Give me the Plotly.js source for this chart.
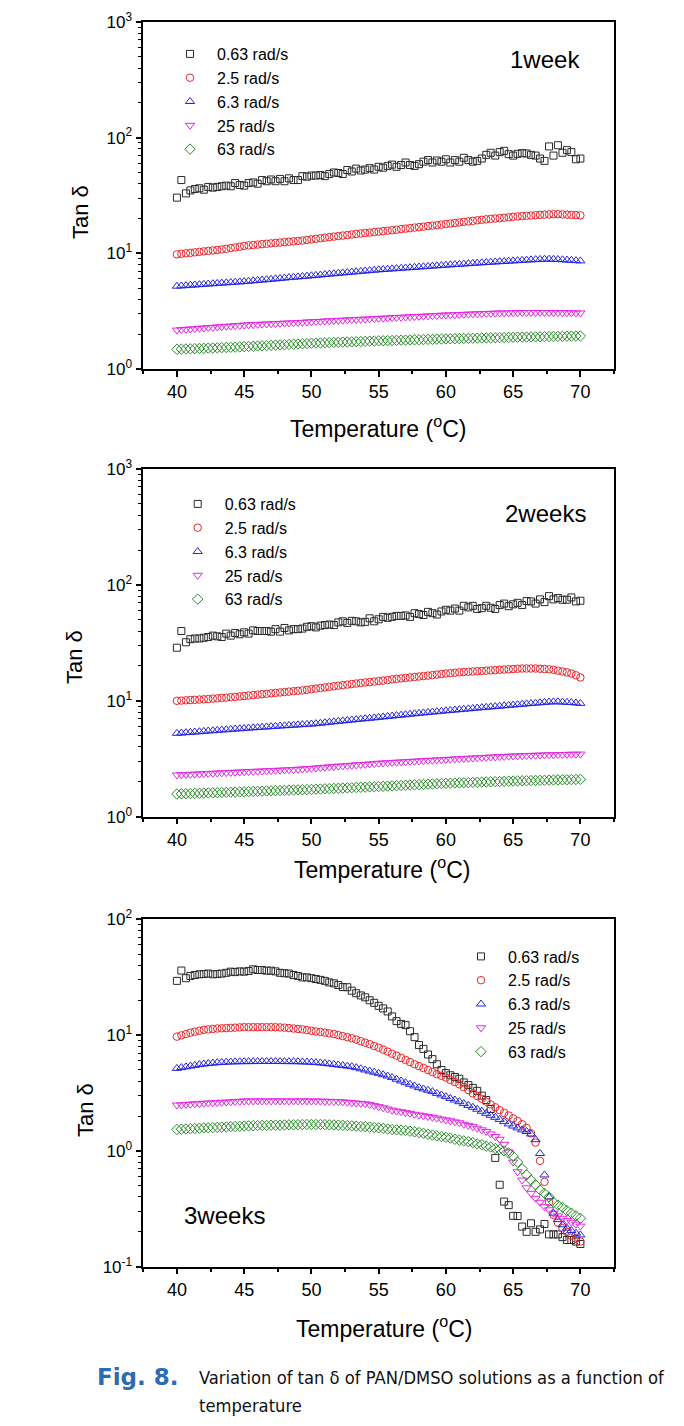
<!DOCTYPE html>
<html>
<head>
<meta charset="utf-8">
<script src="https://cdn.plot.ly/plotly-3.0.1.min.js"></script>
<style>
html,body{margin:0;padding:0;background:#fff;}
#chart{width:684px;height:1426px;}
</style>
</head>
<body>
<div id="chart"></div>
<script>
// Temperature (°C)
const temps = [40,40.33,40.67,41,41.33,41.67,42,42.33,42.67,43,43.33,43.67,44,44.33,44.67,45,
45.33,45.67,46,46.33,46.67,47,47.33,47.67,48,48.33,48.67,49,49.33,49.67,50,
50.33,50.67,51,51.33,51.67,52,52.33,52.67,53,53.33,53.67,54,54.33,54.67,55,
55.33,55.67,56,56.33,56.67,57,57.33,57.67,58,58.33,58.67,59,59.33,59.67,60,
60.33,60.67,61,61.33,61.67,62,62.33,62.67,63,63.33,63.67,64,64.33,64.67,65,
65.33,65.67,66,66.33,66.67,67,67.33,67.67,68,68.33,68.67,69,69.33,69.67,70];

const seriesNames = ['0.63 rad/s','2.5 rad/s','6.3 rad/s','25 rad/s','63 rad/s'];
const panelLabels = ['1week','2weeks','3weeks'];
const xTickVals = [40,45,50,55,60,65,70];

// ---- 1 week ----
const w1_063 = [30.3,43,33,35,36,36.5,35.5,37.5,37,37.5,38,38.5,38,40.5,39,38.5,
40.5,41,40,43,42,43.5,42,44,42,44.5,43,43,46.5,46,47,
47,47.5,46.5,48.5,50,49.5,48.5,52.5,51,54,52,53,54.5,53,56,
55,57,58.5,56,58,61,58,57,59,62,64,61,63.5,62,65,
61,64,62,67,64,62,63,66,71,74,70,75,77,72,70,
72.5,73.5,73,71,70,66,63,84,70,86,74,78,75,65,66];
const w1_25 = [9.8,9.9,10.0,10.1,10.2,10.3,10.4,10.5,10.6,10.7,10.8,10.95,11.1,11.25,11.4,11.6,
11.7,11.8,11.9,12.0,12.1,12.2,12.3,12.4,12.5,12.6,12.7,12.8,12.9,13.05,13.2,
13.35,13.5,13.65,13.8,13.95,14.1,14.25,14.4,14.55,14.7,14.85,15.0,15.1,15.25,15.4,
15.55,15.7,15.85,16.0,16.2,16.35,16.5,16.7,16.85,17.0,17.2,17.35,17.5,17.7,17.9,
18.1,18.3,18.5,18.7,18.9,19.1,19.3,19.5,19.7,19.85,20.0,20.15,20.3,20.5,20.7,
20.85,21.0,21.1,21.2,21.35,21.5,21.6,21.7,21.8,21.8,21.7,21.6,21.5,21.4,21.3];
const w1_63r = [5.2,5.23,5.26,5.3,5.33,5.36,5.4,5.43,5.46,5.5,5.53,5.56,5.6,5.63,5.66,5.7,
5.74,5.79,5.83,5.88,5.92,5.97,6.02,6.07,6.12,6.17,6.22,6.26,6.3,6.35,6.4,
6.45,6.5,6.56,6.61,6.66,6.72,6.77,6.82,6.88,6.93,6.98,7.04,7.09,7.15,7.2,
7.25,7.29,7.34,7.38,7.43,7.48,7.52,7.57,7.62,7.66,7.71,7.76,7.8,7.85,7.9,
7.95,8.0,8.04,8.09,8.14,8.19,8.24,8.28,8.33,8.38,8.42,8.47,8.51,8.56,8.6,
8.65,8.7,8.74,8.78,8.82,8.86,8.9,8.9,8.88,8.85,8.8,8.75,8.7,8.65,8.6];
const w1_250 = [2.17,2.19,2.2,2.22,2.23,2.25,2.26,2.28,2.29,2.31,2.32,2.34,2.35,2.37,2.38,2.4,
2.41,2.42,2.43,2.44,2.45,2.46,2.47,2.48,2.49,2.5,2.51,2.52,2.53,2.55,2.56,
2.57,2.58,2.6,2.61,2.62,2.63,2.64,2.66,2.67,2.68,2.69,2.7,2.71,2.73,2.74,
2.75,2.76,2.78,2.79,2.8,2.81,2.83,2.84,2.85,2.86,2.88,2.89,2.9,2.92,2.93,
2.94,2.95,2.96,2.97,2.98,2.99,3.0,3.01,3.02,3.03,3.04,3.05,3.05,3.06,3.07,
3.07,3.08,3.08,3.08,3.08,3.08,3.08,3.08,3.07,3.07,3.07,3.06,3.06,3.05,3.05];
const w1_630 = [1.48,1.485,1.49,1.495,1.5,1.505,1.51,1.515,1.52,1.525,1.53,1.535,1.54,1.545,1.55,1.56,
1.567,1.574,1.581,1.588,1.595,1.602,1.609,1.616,1.623,1.63,1.637,1.644,1.651,1.66,1.67,
1.675,1.68,1.686,1.691,1.697,1.702,1.708,1.713,1.718,1.724,1.729,1.734,1.74,1.745,1.75,
1.755,1.76,1.764,1.769,1.774,1.778,1.783,1.788,1.792,1.797,1.802,1.806,1.811,1.815,1.82,
1.824,1.828,1.832,1.836,1.84,1.844,1.848,1.852,1.856,1.86,1.864,1.868,1.872,1.876,1.88,
1.883,1.887,1.89,1.894,1.897,1.9,1.904,1.907,1.91,1.914,1.917,1.92,1.923,1.927,1.93];

// ---- 2 weeks ----
const w2_063 = [28.7,40,32,34,34.5,34.5,35,35.5,36.5,36,35.5,38,36.5,38.5,37.5,39,
38,40.5,40,40,40,39.5,41.5,39.5,42.5,40.5,41.5,41.5,42,43.5,44,
43,44.5,45,45.5,45,47.5,48.5,47,49,48.5,47.5,48,51.5,48.5,50.5,
53,52,53,54,54,54.5,53,57,56,55,58.5,57,55.5,59,61,
60,62.5,60,66,64,66,62,63,66,63.5,62,67,69,65.5,68,
70,67,72.5,72,69,75,71,80,75,77,74.5,74.5,78,72,73];
const w2_25 = [10.0,10.05,10.1,10.15,10.2,10.25,10.3,10.35,10.45,10.5,10.6,10.65,10.75,10.8,10.9,11.0,
11.1,11.2,11.3,11.4,11.5,11.6,11.7,11.8,11.9,12.0,12.1,12.2,12.3,12.45,12.6,
12.75,12.9,13.05,13.2,13.35,13.5,13.65,13.8,13.95,14.1,14.25,14.4,14.5,14.65,14.8,
14.95,15.1,15.3,15.45,15.6,15.75,15.9,16.05,16.2,16.35,16.5,16.65,16.85,17.0,17.2,
17.3,17.45,17.6,17.7,17.8,17.9,18.0,18.1,18.2,18.3,18.4,18.5,18.6,18.7,18.8,
18.9,19.0,19.0,19.0,19.0,18.9,18.8,18.7,18.5,18.2,17.9,17.6,17.2,16.6,15.9];
const w2_63r = [5.24,5.27,5.31,5.34,5.38,5.41,5.45,5.49,5.52,5.56,5.6,5.63,5.67,5.71,5.74,5.78,
5.81,5.85,5.88,5.92,5.95,5.99,6.02,6.06,6.09,6.13,6.16,6.2,6.23,6.27,6.3,
6.35,6.41,6.47,6.53,6.59,6.65,6.71,6.77,6.83,6.89,6.95,7.01,7.07,7.13,7.2,
7.26,7.33,7.39,7.46,7.52,7.59,7.66,7.73,7.8,7.86,7.93,8.0,8.06,8.13,8.2,
8.26,8.33,8.39,8.46,8.52,8.59,8.66,8.72,8.79,8.86,8.92,8.99,9.06,9.13,9.2,
9.27,9.34,9.41,9.48,9.55,9.62,9.69,9.76,9.8,9.8,9.75,9.7,9.65,9.58,9.5];
const w2_250 = [2.29,2.3,2.31,2.32,2.33,2.34,2.35,2.36,2.37,2.38,2.39,2.4,2.41,2.42,2.43,2.44,
2.45,2.46,2.47,2.48,2.49,2.5,2.51,2.52,2.53,2.54,2.55,2.57,2.58,2.6,2.61,
2.63,2.65,2.67,2.69,2.71,2.73,2.74,2.76,2.78,2.8,2.82,2.83,2.85,2.87,2.89,
2.91,2.92,2.94,2.95,2.97,2.98,3.0,3.01,3.03,3.04,3.06,3.07,3.09,3.1,3.12,
3.13,3.15,3.16,3.18,3.19,3.21,3.22,3.24,3.25,3.27,3.28,3.3,3.31,3.33,3.34,
3.35,3.36,3.37,3.38,3.39,3.4,3.41,3.42,3.42,3.43,3.44,3.45,3.46,3.46,3.47];
const w2_630 = [1.57,1.575,1.579,1.584,1.589,1.593,1.598,1.603,1.607,1.612,1.617,1.621,1.626,1.631,1.635,1.64,
1.645,1.651,1.656,1.661,1.667,1.672,1.677,1.683,1.688,1.693,1.699,1.704,1.709,1.715,1.72,
1.727,1.733,1.74,1.747,1.753,1.76,1.767,1.773,1.78,1.787,1.793,1.8,1.807,1.813,1.82,
1.828,1.836,1.844,1.852,1.86,1.868,1.876,1.884,1.892,1.9,1.908,1.916,1.924,1.932,1.94,
1.946,1.952,1.958,1.964,1.97,1.976,1.982,1.988,1.994,2.0,2.006,2.012,2.018,2.024,2.03,
2.035,2.04,2.044,2.049,2.054,2.058,2.063,2.068,2.072,2.077,2.082,2.086,2.091,2.095,2.1];

// ---- 3 weeks ----
const w3_063 = [29.4,36.1,31,32.4,33,33.5,33.7,34,33.5,33.7,34,34.5,35.3,35,35.5,35.3,
35.8,37,36.5,36.5,36,36,35.5,34.5,34.2,34,33,32.4,31.5,31.5,31,
30.5,30,29.4,28.5,28,27.1,26,25.9,24.2,23,22,21.2,20,19,17.9,
17,16,14.5,13.2,12.5,12.2,10.8,9.6,8.2,7.6,6.8,6.2,5.6,5.0,4.7,
4.5,4.35,4.2,3.9,3.7,3.5,3.3,3.0,2.75,2.3,0.87,0.51,0.365,0.34,0.275,
0.274,0.222,0.2,0.237,0.2,0.21,0.234,0.19,0.19,0.19,0.18,0.17,0.17,0.165,0.157];
const w3_25 = [9.7,9.95,10.2,10.5,10.7,10.9,11.1,11.2,11.3,11.4,11.45,11.5,11.55,11.6,11.65,11.7,
11.7,11.7,11.7,11.7,11.7,11.7,11.7,11.65,11.6,11.5,11.4,11.3,11.2,11.05,10.9,
10.75,10.65,10.5,10.35,10.2,10.0,9.8,9.6,9.4,9.15,8.85,8.6,8.35,8.05,7.8,
7.5,7.2,6.9,6.65,6.35,6.1,5.85,5.6,5.4,5.2,5.0,4.8,4.6,4.45,4.3,
4.1,3.93,3.76,3.55,3.35,3.14,2.98,2.82,2.66,2.52,2.38,2.25,2.13,2.02,1.91,
1.81,1.7,1.58,1.42,1.18,0.82,0.54,0.36,0.28,0.24,0.215,0.2,0.185,0.175,0.165];
const w3_63r = [5.16,5.24,5.32,5.4,5.48,5.56,5.63,5.68,5.73,5.78,5.81,5.84,5.86,5.88,5.89,5.9,
5.9,5.91,5.91,5.92,5.92,5.92,5.92,5.91,5.91,5.9,5.9,5.89,5.87,5.85,5.83,
5.79,5.75,5.7,5.64,5.58,5.52,5.46,5.4,5.34,5.23,5.12,5.0,4.89,4.78,4.68,
4.55,4.43,4.3,4.16,4.02,3.88,3.76,3.64,3.52,3.43,3.34,3.25,3.14,3.04,2.94,
2.84,2.75,2.66,2.56,2.47,2.38,2.29,2.2,2.11,2.03,1.95,1.87,1.79,1.71,1.64,
1.58,1.52,1.47,1.4,1.25,0.95,0.62,0.4,0.29,0.255,0.23,0.215,0.205,0.195,0.188];
const w3_250 = [2.49,2.5,2.52,2.53,2.55,2.56,2.58,2.59,2.6,2.61,2.63,2.64,2.65,2.67,2.68,2.7,
2.7,2.7,2.7,2.7,2.7,2.7,2.7,2.7,2.7,2.7,2.7,2.7,2.7,2.7,2.7,
2.7,2.69,2.68,2.68,2.67,2.66,2.65,2.63,2.61,2.59,2.57,2.55,2.51,2.46,2.41,
2.36,2.3,2.25,2.21,2.18,2.14,2.11,2.07,2.04,2.01,1.98,1.95,1.92,1.88,1.85,
1.82,1.78,1.75,1.7,1.66,1.62,1.57,1.52,1.47,1.4,1.33,1.26,1.14,0.98,0.8,
0.66,0.56,0.48,0.43,0.39,0.36,0.33,0.31,0.29,0.275,0.262,0.25,0.242,0.233,0.224];
const w3_630 = [1.53,1.54,1.55,1.555,1.56,1.57,1.58,1.585,1.59,1.6,1.605,1.61,1.62,1.625,1.63,1.64,
1.645,1.65,1.655,1.66,1.66,1.665,1.67,1.67,1.675,1.68,1.68,1.685,1.69,1.69,1.69,
1.69,1.69,1.685,1.68,1.675,1.67,1.665,1.655,1.645,1.635,1.625,1.62,1.605,1.59,1.58,
1.565,1.545,1.53,1.52,1.51,1.5,1.48,1.46,1.44,1.42,1.39,1.37,1.35,1.33,1.31,
1.29,1.26,1.24,1.22,1.2,1.18,1.15,1.13,1.1,1.08,1.05,1.03,1.0,0.96,0.9,
0.8,0.7,0.62,0.56,0.51,0.46,0.43,0.4,0.36,0.34,0.325,0.305,0.29,0.275,0.262];

const panels = [
  [w1_063, w1_25, w1_63r, w1_250, w1_630],
  [w2_063, w2_25, w2_63r, w2_250, w2_630],
  [w3_063, w3_25, w3_63r, w3_250, w3_630]
];

const colors = ['#2a2a2a', '#e8262a', '#2424e0', '#e424e4', '#2a8c2a'];
const symbols = ['square-open', 'circle-open', 'triangle-up-open', 'triangle-down-open', 'diamond-open'];
const sizes = [7, 7.5, 8, 8, 8];

const FONT = 'Arial, "Liberation Sans", sans-serif';
const W = 684, H = 1426;
const px = x => x / W;
const py = y => 1 - y / H;

const traces = [];
panels.forEach((ser, p) => {
  const ax = p === 0 ? '' : String(p + 1);
  ser.forEach((vals, s) => {
    traces.push({
      type: 'scatter', mode: 'markers',
      x: temps, y: vals,
      name: seriesNames[s],
      xaxis: 'x' + ax, yaxis: 'y' + ax,
      legend: p === 0 ? 'legend' : 'legend' + (p + 1),
      marker: {symbol: symbols[s], size: sizes[s], color: colors[s], line: {width: 1, color: colors[s]}},
      hoverinfo: 'x+y'
    });
  });
});

// plot frames (pixels)
const frames = [
  {l: 143.3, r: 614, t: 22, b: 369, yr: [0, 3], yt: [1, 10, 100, 1000], ytt: ['10<sup>0</sup>', '10<sup>1</sup>', '10<sup>2</sup>', '10<sup>3</sup>']},
  {l: 143.3, r: 614, t: 469, b: 816.7, yr: [0, 3], yt: [1, 10, 100, 1000], ytt: ['10<sup>0</sup>', '10<sup>1</sup>', '10<sup>2</sup>', '10<sup>3</sup>']},
  {l: 143.3, r: 614, t: 919.3, b: 1266.7, yr: [-1, 2], yt: [0.1, 1, 10, 100], ytt: ['10<sup>-1</sup>', '10<sup>0</sup>', '10<sup>1</sup>', '10<sup>2</sup>']}
];

function minorVals(range) {
  const out = [];
  for (let e = range[0]; e < range[1]; e++) {
    for (let m = 2; m <= 9; m++) out.push(m * Math.pow(10, e));
  }
  return out;
}

const layout = {
  width: W, height: H,
  margin: {l: 0, r: 0, t: 0, b: 0},
  paper_bgcolor: '#ffffff', plot_bgcolor: '#ffffff',
  font: {family: FONT, color: '#000', size: 17},
  showlegend: true,
  annotations: []
};

frames.forEach((f, i) => {
  const k = i === 0 ? '' : String(i + 1);
  layout['xaxis' + k] = {
    domain: [px(f.l), px(f.r)], anchor: 'y' + k,
    range: [37.5, 72.5], tickmode: 'array', tickvals: xTickVals,
    ticks: 'outside', ticklen: 6, tickwidth: 1.5, tickcolor: '#000',
    minor: {ticks: 'outside', ticklen: 3.5, tickwidth: 1.5, tickcolor: '#000', tickmode: 'array', tickvals: [37.5,42.5,47.5,52.5,57.5,62.5,67.5,72.5]},
    showline: true, linecolor: '#000', linewidth: 1.5, mirror: true,
    showgrid: false, zeroline: false,
    tickfont: {family: FONT, size: 18, color: '#000'}
  };
  layout['yaxis' + k] = {
    domain: [py(f.b), py(f.t)], anchor: 'x' + k,
    type: 'log', range: f.yr, tickmode: 'array', tickvals: f.yt, ticktext: f.ytt,
    ticks: 'outside', ticklen: 6, tickwidth: 1.5, tickcolor: '#000',
    minor: {ticks: 'outside', ticklen: 3.5, tickwidth: 1, tickcolor: '#000', tickmode: 'array', tickvals: minorVals(f.yr)},
    showline: true, linecolor: '#000', linewidth: 1.5, mirror: true,
    showgrid: false, zeroline: false,
    tickfont: {family: FONT, size: 17, color: '#000'}
  };
});

// legends (x = left of legend box, y = top of legend box, pixels)
const legendPos = [
  {x: 163, y: 37},
  {x: 170.7, y: 487},
  {x: 454, y: 939.5}
];
legendPos.forEach((lp, i) => {
  const key = i === 0 ? 'legend' : 'legend' + (i + 1);
  layout[key] = {
    x: px(lp.x), y: py(lp.y), xanchor: 'left', yanchor: 'top',
    bgcolor: 'rgba(0,0,0,0)', borderwidth: 0,
    font: {family: FONT, size: 16, color: '#000'},
    itemwidth: 44, tracegroupgap: 0, traceorder: 'normal'
  };
});

// panel labels
[[582, 60, 'right'], [588, 513, 'right'], [182, 1215, 'left']].forEach((a, i) => {
  layout.annotations.push({
    xref: 'paper', yref: 'paper', x: px(a[0]), y: py(a[1]),
    xanchor: a[2], yanchor: 'middle', showarrow: false,
    text: panelLabels[i], font: {family: FONT, size: 24, color: '#000'}
  });
});

// axis titles
[[80, 212], [74, 657], [85, 1110]].forEach(a => {
  layout.annotations.push({
    xref: 'paper', yref: 'paper', x: px(a[0]), y: py(a[1]),
    xanchor: 'center', yanchor: 'middle', showarrow: false, textangle: -90,
    text: 'Tan δ', font: {family: FONT, size: 22, color: '#000'}
  });
});
[[378, 427], [382, 868], [384, 1327]].forEach(a => {
  layout.annotations.push({
    xref: 'paper', yref: 'paper', x: px(a[0]), y: py(a[1]),
    xanchor: 'center', yanchor: 'middle', showarrow: false,
    text: 'Temperature (<sup>o</sup>C)', font: {family: FONT, size: 23, color: '#000'}
  });
});

// caption
const CAP = '"DejaVu Sans Condensed", "Liberation Sans Narrow", "Arial Narrow", sans-serif';
layout.annotations.push({
  xref: 'paper', yref: 'paper', x: px(95), y: py(1377), xanchor: 'left', yanchor: 'middle', showarrow: false,
  text: '<b>Fig. 8.</b>',
  font: {family: '"DejaVu Sans", sans-serif', size: 23, color: '#2b6cb4'}
});
layout.annotations.push({
  xref: 'paper', yref: 'paper', x: px(197), y: py(1377), xanchor: 'left', yanchor: 'middle', showarrow: false,
  text: 'Variation of tan δ of PAN/DMSO solutions as a function of',
  font: {family: CAP, size: 18.2, color: '#111'}
});
layout.annotations.push({
  xref: 'paper', yref: 'paper', x: px(197), y: py(1405), xanchor: 'left', yanchor: 'middle', showarrow: false,
  text: 'temperature',
  font: {family: CAP, size: 18.2, color: '#111'}
});

Plotly.newPlot('chart', traces, layout, {displayModeBar: false, responsive: false});
</script>
</body>
</html>
